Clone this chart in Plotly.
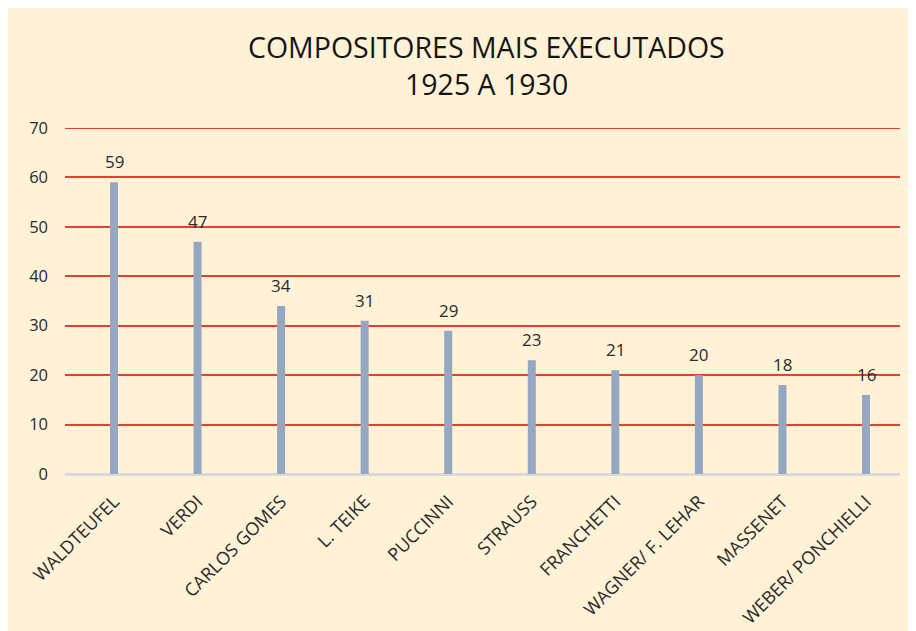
import plotly.graph_objects as go

categories = ["WALDTEUFEL", "VERDI", "CARLOS GOMES", "L. TEIKE", "PUCCINNI",
              "STRAUSS", "FRANCHETTI", "WAGNER/ F. LEHAR", "MASSENET", "WEBER/ PONCHIELLI"]
values = [59, 47, 34, 31, 29, 23, 21, 20, 18, 16]
title_lines = ["COMPOSITORES MAIS EXECUTADOS", "1925 A 1930"]
y_ticks = [0, 10, 20, 30, 40, 50, 60, 70]

W, H = 916, 631
# page has an 8px body margin; figure coordinates below are page coords minus 8
L, R, T, B = 57, 24, 120, 165
plot_w = W - L - R
plot_h = H - T - B

FONT = "Open Sans, Noto Sans, DejaVu Sans, sans-serif"
TXT = "#2b2b2b"
CREAM = "#FFF2D6"
RED = "#E2412E"

fig = go.Figure()
fig.add_trace(go.Bar(
    x=list(range(len(categories))), y=values,
    width=0.096, marker=dict(color="#95A7C1", line=dict(width=0)),
    hoverinfo="x+y",
))

for i, v in enumerate(values):
    fig.add_annotation(x=i, y=v, text=str(v), showarrow=False,
                       yanchor="bottom", yshift=7,
                       font=dict(size=17, color=TXT, family=FONT))

# top gridline (plotly omits the grid line at the range edge)
fig.add_shape(type="line", xref="paper", yref="y", x0=0, x1=1,
              y0=y_ticks[-1], y1=y_ticks[-1],
              line=dict(color=RED, width=2), layer="below")

# title
tx = (478 - L) / plot_w
fig.add_annotation(xref="paper", yref="paper", x=tx, y=(H - B - 39) / plot_h,
                   text=title_lines[0], showarrow=False, yanchor="middle", xanchor="center",
                   font=dict(size=28.5, color="#151515", family=FONT))
fig.add_annotation(xref="paper", yref="paper", x=tx, y=(H - B - 76) / plot_h,
                   text=title_lines[1], showarrow=False, yanchor="middle", xanchor="center",
                   font=dict(size=28.5, color="#151515", family=FONT))

spacing = 83.56
x0 = -(106 - L) / spacing
x1 = 9 + (892 - 858) / spacing

fig.update_layout(
    width=W, height=H,
    margin=dict(l=L, r=R, t=T, b=B),
    paper_bgcolor=CREAM, plot_bgcolor="rgba(0,0,0,0)",
    showlegend=False,
    font=dict(family=FONT, color=TXT),
    xaxis=dict(
        range=[x0, x1], tickmode="array",
        tickvals=list(range(len(categories))), ticktext=categories,
        tickangle=-45, tickfont=dict(size=18, color=TXT, family=FONT),
        showgrid=False, showline=True, linecolor="#D9D9D9", linewidth=2,
        ticks="", zeroline=False, ticklabelstandoff=8,
    ),
    yaxis=dict(
        range=[0, 70], tickmode="array", tickvals=y_ticks,
        tickfont=dict(size=16.5, color=TXT, family=FONT),
        showgrid=True, gridcolor=RED, gridwidth=2,
        zeroline=True, zerolinecolor="#D9D9D9", zerolinewidth=2,
        showline=False, ticks="", ticklabelstandoff=16,
    ),
)

fig.write_html("out.html")
